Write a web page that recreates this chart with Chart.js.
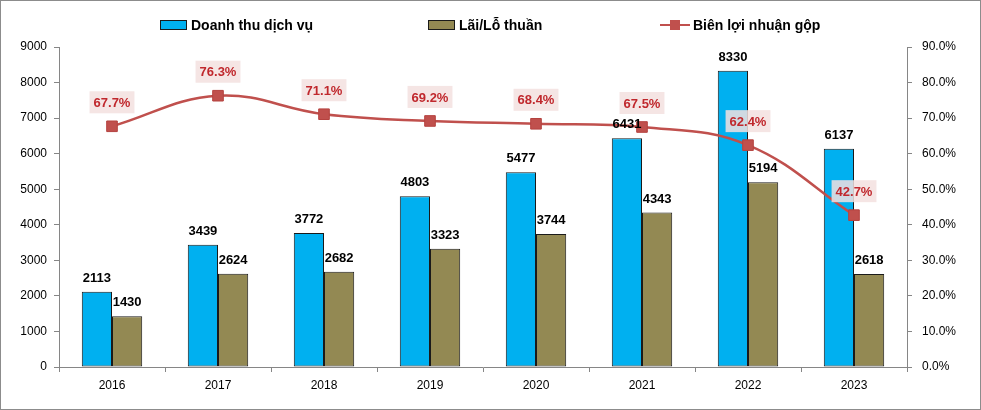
<!DOCTYPE html>
<html><head><meta charset="utf-8">
<script src="https://cdn.jsdelivr.net/npm/chart.js@4/dist/chart.umd.min.js"></script>
<style>
html,body{margin:0;padding:0;background:#fff;}
#wrap{position:relative;width:979px;height:408px;border:1px solid #8c8c8c;overflow:hidden;}
canvas{position:absolute;left:0;top:0;}
#legend{position:absolute;top:14px;left:0;width:100%;height:20px;font:bold 14px "Liberation Sans",Arial,sans-serif;color:#000;}
.li{position:absolute;top:0;display:flex;align-items:center;height:20px;white-space:nowrap;}
.box{display:inline-block;width:25px;height:8px;border:1px solid #1a1a1a;margin-right:4px;}
.ln{display:inline-block;position:relative;width:30px;height:10px;margin-right:3px;}
.ln:before{content:"";position:absolute;left:0;right:0;top:4px;height:2px;background:#C0504D;}
.ln:after{content:"";position:absolute;left:10px;top:0;width:10px;height:10px;background:#C0504D;}
</style></head>
<body>
<div id="wrap">
<canvas id="c" width="979" height="408"></canvas>
<div id="legend">
 <div class="li" style="left:159px"><span class="box" style="background:#00B0F0"></span>Doanh thu dịch vụ</div>
 <div class="li" style="left:427px"><span class="box" style="background:#938953"></span>Lãi/Lỗ thuần</div>
 <div class="li" style="left:659px"><span class="ln"></span>Biên lợi nhuận gộp</div>
</div>
</div>
<script>
const categories = ["2016","2017","2018","2019","2020","2021","2022","2023"];
const revenue = [2113,3439,3772,4803,5477,6431,8330,6137];
const netProfit = [1430,2624,2682,3323,3744,4343,5194,2618];
const grossMargin = [67.7,76.3,71.1,69.2,68.4,67.5,62.4,42.7];
const seriesNames = ["Doanh thu dịch vụ","Lãi/Lỗ thuần","Biên lợi nhuận gộp"];

const FONT = '"Liberation Sans", Arial, sans-serif';

const labelPlugin = {
  id:'labels',
  afterDatasetsDraw(chart){
    const ctx = chart.ctx;
    ctx.save();
    [0,1].forEach(di=>{
      const meta = chart.getDatasetMeta(di);
      const data = chart.data.datasets[di].data;
      meta.data.forEach((el,i)=>{
        ctx.font = 'bold 13px ' + FONT;
        ctx.fillStyle = '#000';
        ctx.textAlign = 'center';
        ctx.textBaseline = 'bottom';
        ctx.fillText(String(data[i]), el.x, el.y - 7);
      });
    });
    const meta = chart.getDatasetMeta(2);
    const data = chart.data.datasets[2].data;
    meta.data.forEach((el,i)=>{
      const txt = data[i].toFixed(1) + '%';
      ctx.font = 'bold 13px ' + FONT;
      const w = ctx.measureText(txt).width + 8;
      const cy = el.y - 24;
      ctx.fillStyle = 'rgba(243,224,223,0.85)';
      ctx.fillRect(el.x - w/2, cy - 11, w, 22);
      ctx.fillStyle = '#C0282D';
      ctx.textAlign = 'center';
      ctx.textBaseline = 'middle';
      ctx.fillText(txt, el.x, cy + 1);
    });
    ctx.restore();
  }
};

new Chart(document.getElementById('c'), {
  data:{
    labels: categories,
    datasets:[
      {type:'bar', label:seriesNames[0], data:revenue, backgroundColor:'#00B0F0', borderColor:'#1a1a1a', borderWidth:1, borderSkipped:false, yAxisID:'y', order:2, categoryPercentage:0.57, barPercentage:1},
      {type:'bar', label:seriesNames[1], data:netProfit, backgroundColor:'#938953', borderColor:'#1a1a1a', borderWidth:1, borderSkipped:false, yAxisID:'y', order:2, categoryPercentage:0.57, barPercentage:1},
      {type:'line', label:seriesNames[2], data:grossMargin, borderColor:'#C0504D', backgroundColor:'#C0504D', borderWidth:2.5, tension:0.4, pointStyle:'rect', pointRadius:7.5, pointBackgroundColor:'#C0504D', pointBorderColor:'#B5423F', pointBorderWidth:1, yAxisID:'y1', order:0}
    ]
  },
  options:{
    responsive:false, animation:false,
    layout:{padding:{top:46,left:0,right:0,bottom:0}},
    plugins:{legend:{display:false}, tooltip:{enabled:false}},
    scales:{
      x:{
        grid:{display:true, drawOnChartArea:false, offset:true, tickLength:5, color:'#868686'},
        border:{color:'#868686'},
        ticks:{font:{family:FONT,size:12}, color:'#000', padding:6},
        afterFit(s){ s.height = 42; }
      },
      y:{
        position:'left', min:0, max:9000,
        ticks:{stepSize:1000, font:{family:FONT,size:12}, color:'#000', padding:7, callback:v=>String(v)},
        grid:{drawOnChartArea:false, tickLength:5, color:'#868686'},
        border:{color:'#868686'},
        afterFit(s){ s.width = 58; }
      },
      y1:{
        position:'right', min:0, max:90,
        ticks:{stepSize:10, font:{family:FONT,size:12}, color:'#000', padding:10, callback:v=>v.toFixed(1)+'%'},
        grid:{drawOnChartArea:false, tickLength:5, color:'#868686'},
        border:{color:'#868686'},
        afterFit(s){ s.width = 73; }
      }
    }
  },
  plugins:[labelPlugin]
});
</script>
</body></html>
